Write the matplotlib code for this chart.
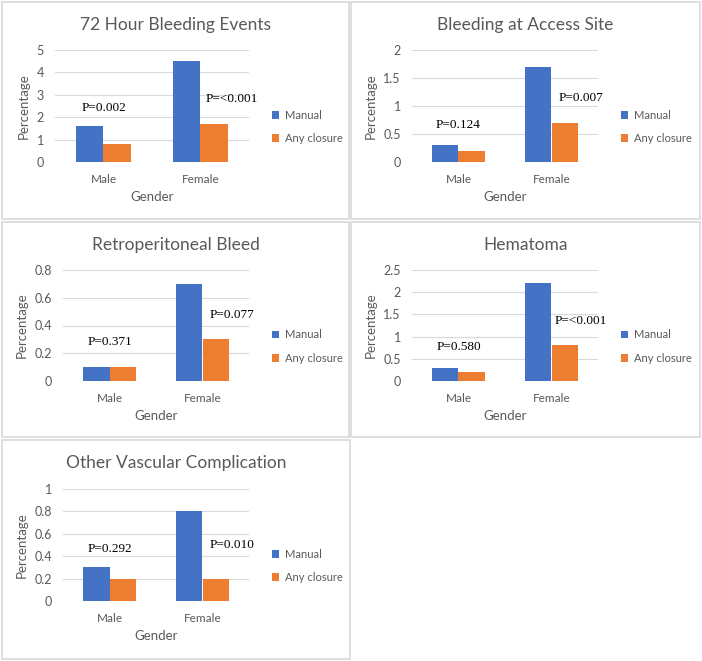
import matplotlib.pyplot as plt
from matplotlib.patches import Rectangle

plt.rcParams['font.family'] = ['Lato', 'DejaVu Sans']

genders = ["Male", "Female"]
series_names = ["Manual", "Any closure"]

titles = ["72 Hour Bleeding Events", "Bleeding at Access Site",
          "Retroperitoneal Bleed", "Hematoma", "Other Vascular Complication"]
manual = [[1.6, 4.5], [0.3, 1.7], [0.1, 0.7], [0.3, 2.2], [0.3, 0.8]]
closure = [[0.8, 1.7], [0.2, 0.7], [0.1, 0.3], [0.2, 0.8], [0.2, 0.2]]
p_male = ["P=0.002", "P=0.124", "P=0.371", "P=0.580", "P=0.292"]
p_female = ["P=<0.001", "P=0.007", "P=0.077", "P=<0.001", "P=0.010"]
y_max = [5, 2, 0.8, 2.5, 1]
y_step = [1, 0.5, 0.2, 0.5, 0.2]

# layout in pixels (top-left origin): panel box, axes box
W, H = 702, 661
panels = [(2, 2, 349, 219), (351, 2, 700, 219), (2, 222, 349, 437),
          (351, 222, 700, 437), (2, 440, 350, 659)]
axes_px = [(55, 50, 249, 162), (412, 50, 598, 162), (63, 270, 249, 381),
           (412, 270, 598, 381), (63, 489, 249, 601)]
p_male_y = [2.4, 0.66, 0.28, 0.77, 0.46]
p_female_y = [2.8, 1.14, 0.475, 1.35, 0.5]

BLUE = "#4472C4"
ORANGE = "#ED7D31"
GREY = "#595959"
GRID = "#D9D9D9"

fig = plt.figure(figsize=(W / 100, H / 100), dpi=100)

for i in range(5):
    x0, y0, x1, y1 = panels[i]
    fig.patches.append(Rectangle((x0 / W, 1 - y1 / H), (x1 - x0) / W, (y1 - y0) / H,
                                 transform=fig.transFigure, fill=False,
                                 edgecolor=GRID, lw=1.2))
    ax0, ay0, ax1, ay1 = axes_px[i]
    ax = fig.add_axes([ax0 / W, 1 - ay1 / H, (ax1 - ax0) / W, (ay1 - ay0) / H])

    xs = range(len(genders))
    w = 0.28
    ax.bar([x - w / 2 for x in xs], manual[i], w, color=BLUE, label=series_names[0])
    ax.bar([x + w / 2 for x in xs], closure[i], w, color=ORANGE, label=series_names[1])

    ax.set_xlim(-0.5, 1.5)
    ax.set_ylim(0, y_max[i])
    n = int(round(y_max[i] / y_step[i]))
    ticks = [k * y_step[i] for k in range(n + 1)]
    ax.set_yticks(ticks)
    ax.set_yticklabels([f"{t:g}" for t in ticks])
    ax.set_xticks(list(xs))
    ax.set_xticklabels(genders)
    ax.grid(axis='y', color=GRID, lw=0.8)
    ax.set_axisbelow(True)
    for s in ax.spines.values():
        s.set_visible(False)
    ax.tick_params(length=0, colors=GREY, labelsize=8.5)
    ax.tick_params(axis='y', labelsize=9, pad=8)
    ax.tick_params(axis='x', pad=9)
    ax.set_xlabel("Gender", color=GREY, fontsize=9.5, labelpad=4)
    ax.set_ylabel("Percentage", color=GREY, fontsize=9.5, labelpad=5)

    ax.text(0, p_male_y[i], p_male[i], ha='center', va='center',
            family='Liberation Serif', fontsize=9.5)
    ax.text(1.32, p_female_y[i], p_female[i], ha='center', va='center',
            family='Liberation Serif', fontsize=9.5)

    cx = (x0 + x1) / 2
    fig.text(cx / W, 1 - (y0 + 23) / H, titles[i], ha='center', va='center',
             fontsize=12.5, color=GREY)

    ly = (ay0 + ay1) / 2 + 21
    ax.legend(loc='center left', bbox_to_anchor=((ax1 + 17) / W, 1 - ly / H),
              bbox_transform=fig.transFigure, frameon=False, fontsize=8,
              handlelength=0.7, handleheight=0.7, handletextpad=0.5,
              labelspacing=1.1, borderpad=0, labelcolor=GREY)

fig.savefig("out.png", dpi=100)
